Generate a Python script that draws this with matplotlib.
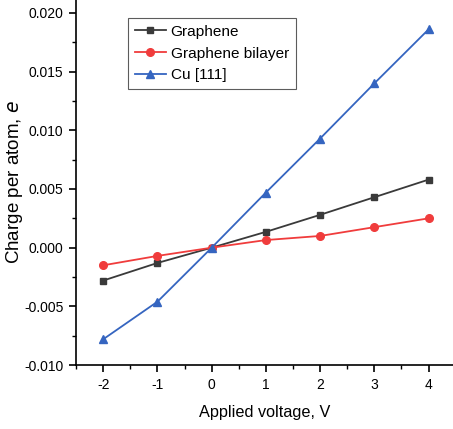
import matplotlib
matplotlib.use("Agg")
import matplotlib.pyplot as plt
from matplotlib.ticker import MultipleLocator

plt.rcParams['font.family'] = ['Liberation Sans', 'DejaVu Sans']
plt.rcParams['axes.unicode_minus'] = False

voltage = [-2, -1, 0, 1, 2, 3, 4]
graphene = [-0.0028, -0.0013, 0.0, 0.00135, 0.0028, 0.0043, 0.0058]
bilayer = [-0.0015, -0.0007, 0.0, 0.00065, 0.001, 0.00175, 0.0025]
cu111 = [-0.0078, -0.0046, 0.0, 0.0047, 0.0093, 0.014, 0.0186]

fig = plt.figure(figsize=(4.53, 4.29), dpi=100)
ax = fig.add_axes([0.168, 0.149, 0.832, 0.851])

ax.plot(voltage, graphene, color='#3a3a3a', marker='s', markersize=5, linewidth=1.3, label='Graphene')
ax.plot(voltage, bilayer, color='#f03c3c', marker='o', markersize=5.5, linewidth=1.3, label='Graphene bilayer')
ax.plot(voltage, cu111, color='#3565c0', marker='^', markersize=6, linewidth=1.3, label='Cu [111]')

ax.set_xlim(-2.5, 4.45)
ax.set_ylim(-0.010, 0.0211)
ax.xaxis.set_major_locator(MultipleLocator(1))
ax.xaxis.set_minor_locator(MultipleLocator(0.5))
ax.yaxis.set_major_locator(MultipleLocator(0.005))
ax.yaxis.set_minor_locator(MultipleLocator(0.0025))
ax.yaxis.set_major_formatter(plt.FuncFormatter(lambda v, p: f"{v:.3f}"))

for s in ['top', 'right']:
    ax.spines[s].set_visible(False)
for s in ['left', 'bottom']:
    ax.spines[s].set_linewidth(1.2)
ax.tick_params(which='major', direction='out', length=5, width=1.2, labelsize=10, pad=4)
ax.tick_params(which='minor', direction='out', length=3, width=1.0)

ax.set_xlabel('Applied voltage, V', fontsize=11.7, labelpad=10)
ax.set_ylabel('Charge per atom, $e$', fontsize=13.5)
ax.yaxis.set_label_coords(-0.135, 0.50)

leg = ax.legend(loc='upper left', bbox_to_anchor=(0.138, 0.951), fontsize=11.1, frameon=True,
                fancybox=False, edgecolor='#333333', handlelength=2.0, borderpad=0.45,
                labelspacing=0.5, handletextpad=0.3, borderaxespad=0)
leg.get_frame().set_linewidth(0.8)

fig.savefig('out.png', dpi=100)
